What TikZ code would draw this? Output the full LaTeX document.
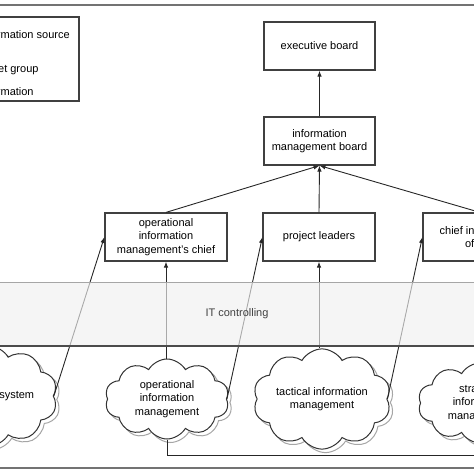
\documentclass[tikz,border=0pt]{standalone}
\usepackage{fontspec}
\setmainfont{Liberation Sans}
\usetikzlibrary{shapes.symbols,arrows.meta,shadows}
\begin{document}
\begin{tikzpicture}[x=1pt,y=-1pt,
  every node/.style={font=\fontsize{11}{13.5}\selectfont, text=black},
  box/.style={draw=black!75, line width=1.2pt, fill=white, align=center, minimum height=48pt, inner sep=2pt},
  src/.style={cloud, cloud puffs=10, cloud puff arc=120, draw=black!80, line width=1pt, fill=white, align=center,
    minimum width=124pt, minimum height=80pt, aspect=1.6, inner sep=0pt,
    copy shadow={shadow xshift=3.5pt, shadow yshift=-3.5pt, draw=black!35, fill=white}},
  flow/.style={draw=black!85, line width=0.9pt, -{Latex[length=6pt,width=4.5pt]}},
  link/.style={draw=black!85, line width=0.9pt},
  legtext/.style={anchor=west, inner sep=0pt}]
\useasboundingbox (0,0) rectangle (474,474);
\clip (0,0) rectangle (474,474);

% frame lines
\draw[black!55, line width=1.5pt] (0,5) -- (474,5);
\draw[black!55, line width=1.3pt] (0,468) -- (474,468);

% legend
\draw[black!75, line width=1.2pt, fill=white] (-80,17) rectangle (79,101);
\node[legtext] (l1) at (-21,35) {information source};
\node[legtext] (l2) at (-21,70) {target group};
\node[legtext] (l3) at (-21,92) {information};

% boxes
\node[box, minimum width=111pt] (eb) at (319.5,46) {executive board};
\node[box, minimum width=111pt] (imb) at (319.5,141) {information\\management board};
\node[box, minimum width=122pt] (oc) at (166,237) {operational\\information\\management's chief};
\node[box, minimum width=112pt] (pl) at (319,237) {project leaders};
\node[box, minimum width=114pt] (cio) at (480,237) {chief information\\officer};

% clouds
\node[src, minimum width=112pt] (is) at (-12,396) {information system};
\node[src] (om) at (167,399) {operational\\information\\management};
\node[src] (tm) at (322,399) {tactical information\\management};
\node[src] (sm) at (480,403) {strategic\\information\\management};

\coordinate (exit) at (490,455);

% connectors
\draw[flow] (imb.north) -- (eb.south);
\draw[flow] (oc.north) -- (imb.south);
\draw[flow] (pl.north) -- (imb.south);
\draw[flow] (cio.north) -- (imb.south);
\draw[flow] (is.east) -- (oc.west);
\draw[flow] (oc.south |- om.north) -- (oc.south);
\draw[flow] (om.east) -- (pl.west);
\draw[flow] (pl.south |- tm.north) -- (pl.south);
\draw[flow] (tm.east) -- (cio.west);
\draw[link] (om.south) |- (exit);

% IT controlling band
\fill[black!6, fill opacity=0.65] (0,282) rectangle (474,346);
\draw[black!35, line width=0.8pt] (0,282) -- (474,282);
\draw[black!70, line width=1.2pt] (0,346) -- (474,346);
\node[text=black!75] (itc) at (237,314) {IT controlling};
\end{tikzpicture}
\end{document}
